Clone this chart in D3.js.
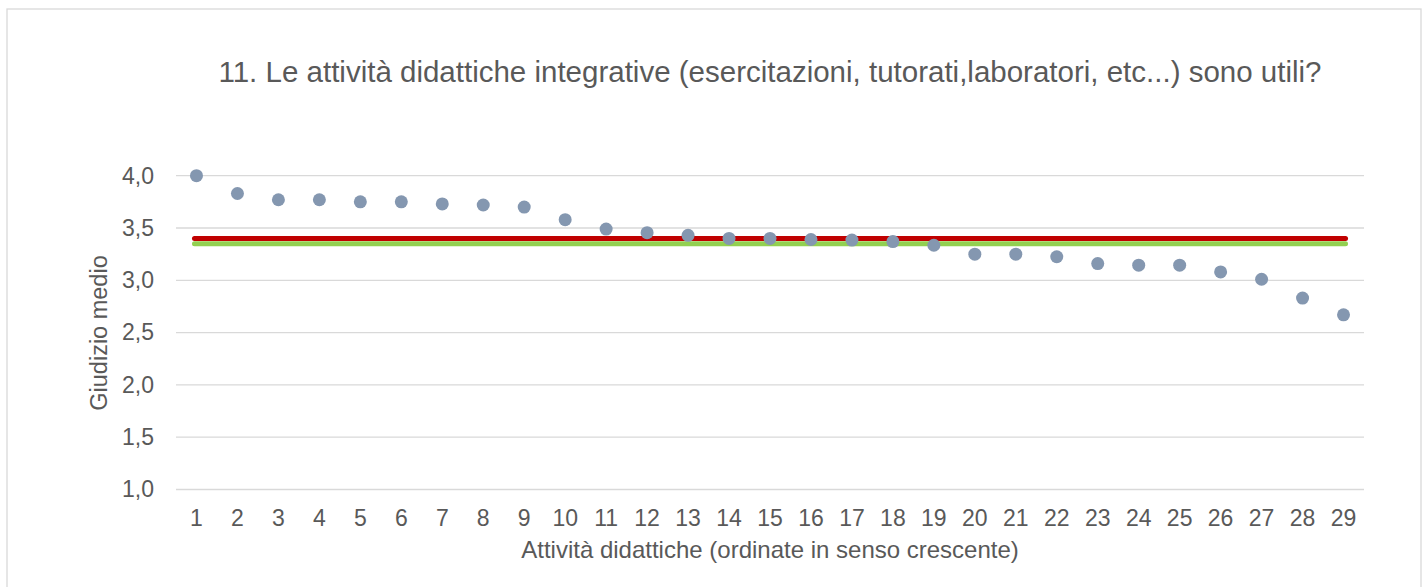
<!DOCTYPE html>
<html lang="it">
<head>
    <meta charset="UTF-8">
    <title>Giudizio medio attività didattiche</title>
    <script src="https://cdn.jsdelivr.net/npm/d3@7"></script>
    <style>
        body { margin: 0; background: #fff; }
        text { font-family: "Liberation Sans", Arial, sans-serif; fill: #595959; }
        .grid line { stroke: #d9d9d9; stroke-width: 1.3px; }
        .axis path, .axis line { display: none; }
    </style>
</head>
<body>
<script>
    // attività (asse x)
    const categories = [1, 2, 3, 4, 5, 6, 7, 8, 9, 10, 11, 12, 13, 14, 15, 16, 17, 18, 19, 20, 21, 22, 23, 24, 25, 26, 27, 28, 29];
    // giudizio medio di ogni attività
    const values = [4.00, 3.83, 3.77, 3.77, 3.75, 3.75, 3.73, 3.72, 3.70, 3.58,
                    3.49, 3.455, 3.43, 3.40, 3.40, 3.39, 3.385, 3.37, 3.335, 3.25,
                    3.25, 3.225, 3.16, 3.145, 3.145, 3.08, 3.01, 2.83, 2.67];
    // linee di riferimento
    const refRed = 3.40;
    const refGreen = 3.35;
    const yTicks = [1.0, 1.5, 2.0, 2.5, 3.0, 3.5, 4.0];

    const width = 1425, height = 587;
    const fmt = d => d.toFixed(1).replace(".", ",");

    const svg = d3.select("body").append("svg")
        .attr("width", width).attr("height", height);

    // cornice
    svg.append("rect")
        .attr("x", 7).attr("y", 9)
        .attr("width", 1414).attr("height", 600)
        .attr("fill", "#fff").attr("stroke", "#d9d9d9").attr("stroke-width", 1.3);

    const x = d3.scaleBand().domain(categories).range([176, 1364]);
    const y = d3.scaleLinear().domain([1, 4]).range([489.5, 175.7]);

    // griglia
    svg.append("g").attr("class", "grid")
        .selectAll("line").data(yTicks).enter().append("line")
        .attr("x1", 176).attr("x2", 1364)
        .attr("y1", d => y(d)).attr("y2", d => y(d));

    // assi
    svg.append("g").attr("class", "axis")
        .attr("transform", "translate(176,0)")
        .call(d3.axisLeft(y).tickValues(yTicks).tickFormat(fmt).tickSize(0).tickPadding(22))
        .selectAll("text").style("font-size", "23px").attr("fill", "#595959");

    svg.append("g").attr("class", "axis")
        .attr("transform", "translate(0,489.5)")
        .call(d3.axisBottom(x).tickSize(0).tickPadding(20))
        .selectAll("text").style("font-size", "23px").attr("fill", "#595959");

    // linee di riferimento
    const x0 = x(categories[0]) + x.bandwidth() / 2;
    const x1 = x(categories[categories.length - 1]) + x.bandwidth() / 2;
    [[refGreen, "#92d050"], [refRed, "#c00000"]].forEach(([v, c]) => {
        svg.append("line")
            .attr("x1", x0 - 2).attr("x2", x1 + 2)
            .attr("y1", y(v)).attr("y2", y(v))
            .attr("stroke", c).attr("stroke-width", 5).attr("stroke-linecap", "round");
    });

    // punti
    svg.append("g").selectAll("circle")
        .data(categories).enter().append("circle")
        .attr("cx", d => x(d) + x.bandwidth() / 2)
        .attr("cy", (d, i) => y(values[i]))
        .attr("r", 6.5)
        .attr("fill", "#8497b0");

    // titoli
    svg.append("text")
        .attr("x", 770).attr("y", 82).attr("text-anchor", "middle")
        .style("font-size", "29.5px")
        .text("11. Le attività didattiche integrative (esercitazioni, tutorati,laboratori, etc...) sono utili?");

    svg.append("text")
        .attr("x", 770).attr("y", 558).attr("text-anchor", "middle")
        .style("font-size", "24px")
        .text("Attività didattiche (ordinate in senso crescente)");

    svg.append("text")
        .attr("transform", "translate(107,333) rotate(-90)")
        .attr("text-anchor", "middle")
        .style("font-size", "23.5px")
        .text("Giudizio medio");
</script>
</body>
</html>
